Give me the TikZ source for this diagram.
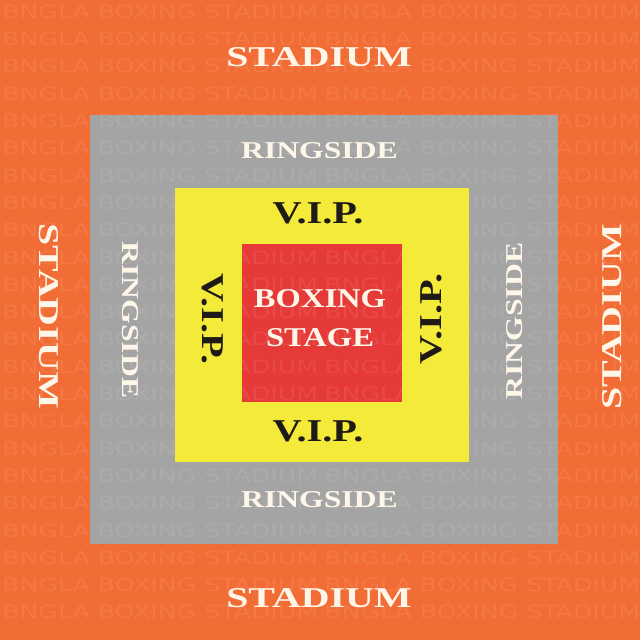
\documentclass[tikz,border=0pt]{standalone}
\usepackage{fontspec}
\setmainfont{Liberation Serif}
\newfontfamily\markfont{DejaVu Sans}

\definecolor{stadiumcol}{HTML}{F26D35}
\definecolor{ringcol}{HTML}{A4A4A4}
\definecolor{vipcol}{HTML}{F4EA3A}
\definecolor{stagecol}{HTML}{E63A38}
\definecolor{cream}{HTML}{FFF6EA}
\definecolor{ink}{HTML}{1E1A16}

\tikzset{
  bgtext/.style={anchor=west, inner sep=0pt, text=white, text opacity=0.08,
    font=\markfont\fontsize{13pt}{13pt}\selectfont, xscale=1.38},
  stadtext/.style={inner sep=0pt, text=cream, font=\bfseries\fontsize{20.4pt}{20pt}\selectfont, xscale=1.39},
  ringtext/.style={inner sep=0pt, text=cream, font=\bfseries\fontsize{17.2pt}{17pt}\selectfont, xscale=1.31},
  viptext/.style={inner sep=0pt, text=ink, font=\bfseries\fontsize{22.6pt}{22pt}\selectfont, xscale=1.27},
  stagetext/.style={inner sep=0pt, text=cream, align=center,
    font=\bfseries\fontsize{19.3pt}{27.7pt}\selectfont, xscale=1.2}
}

\begin{document}
\begin{tikzpicture}[x=0.025cm, y=-0.025cm]
  \useasboundingbox (0,0) rectangle (640,640);

  % seating blocks, outside in
  \fill[stadiumcol] (0,0) rectangle (640,640);
  \fill[ringcol] (90,115) rectangle (558,544);
  \fill[vipcol] (175,188) rectangle (469,462);
  \fill[stagecol] (242,244) rectangle (402,402);

  % faint name all over (not on the yellow band)
  \begin{scope}[even odd rule]
    \clip (0,0) rectangle (640,640) (175,188) rectangle (469,462) (242,244) rectangle (402,402);
    \foreach \row in {0,...,22}
      \foreach \col in {2,324}
        \node[bgtext] (wm-\row-\col) at (\col, 11.7+27.3*\row) {BNGLA BOXING STADIUM};
  \end{scope}

  \node[stadtext] (stad-n) at (319, 57.5) {STADIUM};
  \node[stadtext] (stad-s) at (319, 598) {STADIUM};
  \node[rotate=-90, stadtext] (stad-w) at (48.5, 316) {STADIUM};
  \node[rotate=90, stadtext] (stad-e) at (612, 317) {STADIUM};

  \node[ringtext] (ring-n) at (319.5, 151) {RINGSIDE};
  \node[ringtext] (ring-s) at (319.5, 500) {RINGSIDE};
  \node[rotate=-90, ringtext] (ring-w) at (130, 320) {RINGSIDE};
  \node[rotate=90, ringtext] (ring-e) at (515, 321) {RINGSIDE};

  \node[viptext] (vip-n) at (318, 213.5) {V.I.P.};
  \node[viptext] (vip-s) at (318, 431) {V.I.P.};
  \node[rotate=-90, viptext] (vip-w) at (212.5, 319) {V.I.P.};
  \node[rotate=90, viptext] (vip-e) at (431, 319) {V.I.P.};

  \node[stagetext] (stage) at (320, 318.5) {BOXING\\STAGE};
\end{tikzpicture}
\end{document}
